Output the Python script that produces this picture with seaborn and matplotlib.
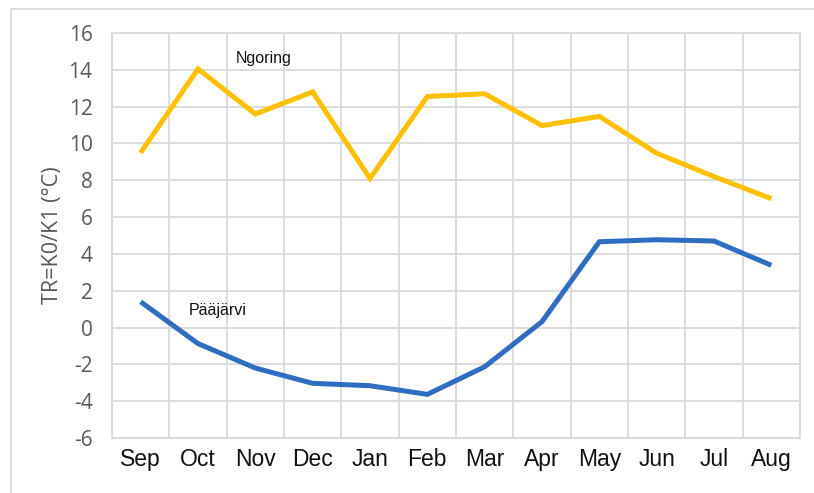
import matplotlib
matplotlib.use("Agg")
import matplotlib.pyplot as plt
import seaborn as sns
import pandas as pd
from matplotlib.lines import Line2D
from matplotlib.ticker import FixedLocator

months = ["Sep", "Oct", "Nov", "Dec", "Jan", "Feb", "Mar", "Apr", "May", "Jun", "Jul", "Aug"]
ngoring = [9.5, 14.05, 11.6, 12.8, 8.1, 12.55, 12.7, 10.97, 11.47, 9.47, 8.2, 7.0]
paajarvi = [1.4, -0.87, -2.2, -3.03, -3.16, -3.63, -2.13, 0.32, 4.66, 4.77, 4.7, 3.38]
y_ticks = [-6, -4, -2, 0, 2, 4, 6, 8, 10, 12, 14, 16]
series_names = ["Ngoring", "Pääjärvi"]
colors = ["#FFC000", "#2F6DC0"]

df = pd.concat([
    pd.DataFrame({"month": months, "value": ngoring, "lake": series_names[0]}),
    pd.DataFrame({"month": months, "value": paajarvi, "lake": series_names[1]}),
])

sns.set_style("white")
plt.rcParams["axes.unicode_minus"] = False
fig = plt.figure(figsize=(8.14, 4.93), dpi=100)
ax = fig.add_axes([112/814, 1 - 438/493, (800-112)/814, (438-33)/493])

sns.lineplot(data=df, x="month", y="value", hue="lake", palette=colors,
             linewidth=3.6, ax=ax, legend=False, sort=False)
for ln in ax.lines:
    ln.set_solid_joinstyle("miter")
    ln.set_solid_capstyle("butt")

ax.set_xlim(-0.5, len(months) - 0.5)
ax.set_ylim(min(y_ticks), max(y_ticks))
ax.set_yticks(y_ticks)
ax.set_xticks(range(len(months)))
ax.set_xticklabels(months)
ax.xaxis.set_minor_locator(FixedLocator([i - 0.5 for i in range(len(months) + 1)]))
ax.grid(True, axis="y", which="major", color="#D9D9D9", linewidth=1.3)
ax.grid(True, axis="x", which="minor", color="#D9D9D9", linewidth=1.3)
ax.grid(False, axis="x", which="major")
ax.tick_params(axis="both", which="both", length=0)
ax.tick_params(axis="y", pad=14, labelsize=15, labelcolor="#595959",
               labelfontfamily="Open Sans")
ax.tick_params(axis="x", pad=7, labelsize=16.5, labelcolor="#111111",
               labelfontfamily="Liberation Sans")
for s in ax.spines.values():
    s.set_color("#D9D9D9")
    s.set_linewidth(1.3)
ax.set_xlabel("")
ax.set_ylabel("TR=K0/K1 (°C)", fontsize=15.5, color="#595959",
              family=["Open Sans", "DejaVu Sans"], labelpad=4)

ax.text(1.66, 14.6, series_names[0], fontsize=11.5, va="center", ha="left",
        family=["Liberation Sans", "DejaVu Sans"], color="#111111")
ax.text(0.83, 0.95, series_names[1], fontsize=11.5, va="center", ha="left",
        family=["Liberation Sans", "DejaVu Sans"], color="#111111")

# outer chart-area frame (left and top edges visible)
fig.add_artist(Line2D([11/814, 11/814], [0, 1 - 9/493], transform=fig.transFigure,
                      color="#D9D9D9", linewidth=1.3))
fig.add_artist(Line2D([11/814, 1], [1 - 9/493, 1 - 9/493], transform=fig.transFigure,
                      color="#D9D9D9", linewidth=1.3))

fig.savefig("out.png", dpi=100)
